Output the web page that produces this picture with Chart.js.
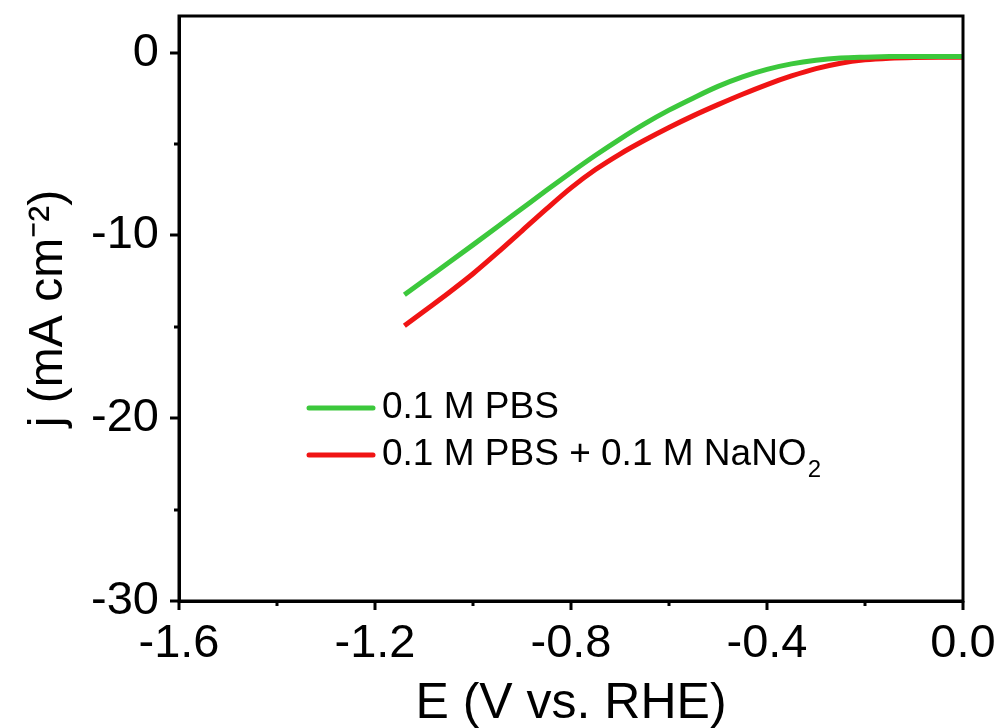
<!DOCTYPE html>
<html><head><meta charset="utf-8">
<script src="https://cdn.jsdelivr.net/npm/chart.js@4.4.1/dist/chart.umd.min.js"></script>
<style>html,body{margin:0;padding:0;background:#fff;}#wrap{width:1003px;height:728px;}</style>
</head><body><div id="wrap"><canvas id="c" width="1003" height="728"></canvas></div>
<script>
// ---- data ----
const seriesNames = ['0.1 M PBS', '0.1 M PBS + 0.1 M NaNO'];
const seriesColors = ['#3cc83c', '#f01414'];
const pbsE = [-1.14,-1.10,-1.05,-1.00,-0.95,-0.90,-0.85,-0.80,-0.75,-0.70,-0.65,-0.60,-0.55,-0.50,-0.45,-0.40,-0.35,-0.30,-0.25,-0.20,-0.15,-0.10,-0.05,0];
const pbsJ = [-13.25,-12.47,-11.5,-10.52,-9.53,-8.53,-7.53,-6.56,-5.62,-4.73,-3.9,-3.15,-2.48,-1.85,-1.33,-0.92,-0.62,-0.42,-0.30,-0.25,-0.22,-0.21,-0.21,-0.21];
const nitE = [-1.14,-1.10,-1.05,-1.00,-0.95,-0.90,-0.85,-0.80,-0.75,-0.70,-0.65,-0.60,-0.55,-0.50,-0.45,-0.40,-0.35,-0.30,-0.25,-0.20,-0.15,-0.10,-0.05,0];
const nitJ = [-14.95,-14.15,-13.15,-12.1,-10.95,-9.75,-8.55,-7.4,-6.4,-5.55,-4.8,-4.1,-3.45,-2.85,-2.28,-1.75,-1.28,-0.88,-0.58,-0.4,-0.31,-0.27,-0.26,-0.26];
const xTickLabels = [-1.6,-1.2,-0.8,-0.4,0.0];
const yTickLabels = [0,-10,-20,-30];

const FONT = '"Liberation Sans", Arial, sans-serif';
Chart.defaults.font.family = FONT;
Chart.defaults.color = '#000';

const isOn = (v, list) => list.some(t => Math.abs(t - v) < 1e-6);
const isMinorX = v => Math.abs(Math.round(v / 0.2) * 0.2 - v) < 1e-6;
const isMinorY = v => Math.abs(Math.round(v / 5) * 5 - v) < 1e-6;

const frameAndTicks = {
  id: 'frameAndTicks',
  afterDraw(chart) {
    const ctx = chart.ctx, a = chart.chartArea;
    ctx.save();
    ctx.strokeStyle = '#000';
    ctx.lineWidth = 3;
    ctx.strokeRect(a.left, a.top, a.right - a.left, a.bottom - a.top);
    const xs = chart.scales.x, ys = chart.scales.y;
    xs.ticks.forEach(t => {
      if (!isMinorX(t.value)) return;
      const px = Math.round(xs.getPixelForValue(t.value));
      const len = isOn(t.value, xTickLabels) ? 9 : 5;
      ctx.beginPath(); ctx.moveTo(px, a.bottom); ctx.lineTo(px, a.bottom + len); ctx.stroke();
    });
    ys.ticks.forEach(t => {
      if (!isMinorY(t.value)) return;
      const py = Math.round(ys.getPixelForValue(t.value));
      const len = isOn(t.value, yTickLabels) ? 9 : 5;
      ctx.beginPath(); ctx.moveTo(a.left, py); ctx.lineTo(a.left - len, py); ctx.stroke();
    });
    // legend inside plot
    const rows = [{y: 408}, {y: 455}];
    rows.forEach((r, i) => {
      ctx.strokeStyle = seriesColors[i];
      ctx.lineWidth = 5;
      ctx.lineCap = 'round';
      ctx.beginPath(); ctx.moveTo(309, r.y); ctx.lineTo(373, r.y); ctx.stroke();
      ctx.fillStyle = '#000';
      ctx.font = '37px ' + FONT;
      ctx.textBaseline = 'middle';
      ctx.textAlign = 'left';
      ctx.fillText(seriesNames[i], 382, r.y);
      if (i === 1) {
        const w = ctx.measureText(seriesNames[i]).width;
        ctx.font = '24px ' + FONT;
        ctx.fillText('2', 382 + w + 1, r.y + 15);
      }
    });
    ctx.restore();
  }
};

new Chart(document.getElementById('c'), {
  type: 'line',
  data: {
    datasets: [
      { label: seriesNames[0], data: pbsE.map((e, i) => ({x: e, y: pbsJ[i]})), borderColor: seriesColors[0], borderWidth: 5, pointRadius: 0, cubicInterpolationMode: 'monotone', fill: false },
      { label: seriesNames[1] + '2', data: nitE.map((e, i) => ({x: e, y: nitJ[i]})), borderColor: seriesColors[1], borderWidth: 5, pointRadius: 0, cubicInterpolationMode: 'monotone', fill: false }
    ]
  },
  options: {
    responsive: false, animation: false, devicePixelRatio: 1,
    layout: { padding: { top: 16, right: 40, left: 0, bottom: 0 } },
    plugins: { legend: { display: false }, tooltip: { enabled: false } },
    scales: {
      x: {
        type: 'linear', min: -1.6, max: 0,
        ticks: { stepSize: 0.2, includeBounds: false, autoSkip: false, maxRotation: 0, padding: 15,
          font: { size: 47 }, color: '#000',
          callback: v => isOn(v, xTickLabels) ? v.toFixed(1) : '' },
        grid: { display: true, drawOnChartArea: false, drawTicks: false },
        border: { display: true, color: '#000', width: 3 },
        title: { display: true, text: 'E (V vs. RHE)', font: { size: 50 }, color: '#000', padding: { top: 0, bottom: -6 } },
        afterFit: s => { s.height = 127; s.paddingLeft = 0; s.paddingRight = 0; }
      },
      y: {
        type: 'linear', min: -30, max: 2,
        ticks: { stepSize: 5, includeBounds: false, autoSkip: false, padding: 20,
          font: { size: 47 }, color: '#000',
          callback: v => isOn(v, yTickLabels) ? String(v) : '' },
        grid: { display: true, drawOnChartArea: false, drawTicks: false },
        border: { display: true, color: '#000', width: 3 },
        title: { display: true, text: 'j (mA cm\u207B\u00B2)', font: { size: 48 }, color: '#000', padding: { top: 20, bottom: 0 } },
        afterFit: s => { s.width = 179; s.paddingTop = 0; s.paddingBottom = 0; }
      }
    }
  },
  plugins: [frameAndTicks]
});
</script>
</body></html>
